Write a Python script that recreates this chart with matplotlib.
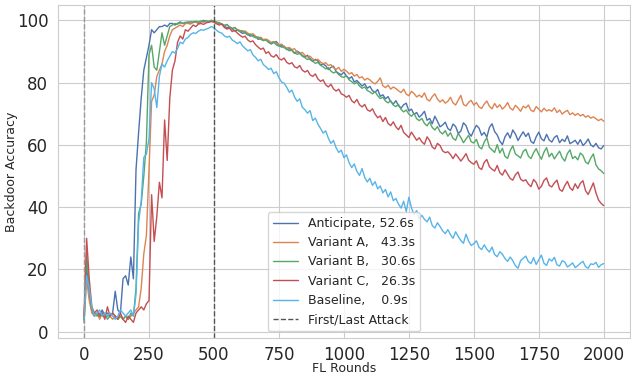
import numpy as np
import matplotlib
matplotlib.use("Agg")
import matplotlib.pyplot as plt
import seaborn as sns

# FL rounds sampled every 10 rounds
rounds = np.arange(0, 2001, 10)

anticipate = [
    4, 21, 12, 7, 5, 6, 5, 7, 5, 6,
    5, 6, 13, 7, 6, 17, 18, 15, 24, 17,
    52, 64, 75, 84, 88, 92, 97, 96, 97, 98,
    98, 98.5, 98, 99, 99, 98.5, 99, 99.5, 99, 99,
    99.5, 99, 99.5, 99.5, 99, 99.5, 100, 99.5, 99.5, 100,
    99.6, 99.3, 99.0, 98.9, 98.1, 97.6, 97.9, 97.2, 96.6, 96.9,
    96.4, 95.8, 96.1, 95.5, 94.9, 95.3, 94.8, 93.9, 94.2, 93.6,
    93.8, 93.1, 92.4, 92.9, 93.2, 92.1, 91.4, 91.7, 90.6, 90.9,
    90.3, 89.4, 90.1, 89.6, 88.7, 88.2, 88.8, 87.4, 86.8, 87.5,
    86.9, 85.7, 86.0, 85.4, 84.2, 84.9, 85.3, 83.6, 83.0, 82.5,
    83.4, 82.1, 81.3, 81.9, 80.2, 80.7, 79.8, 78.9, 79.6, 78.2,
    78.8, 77.4, 76.9, 77.8, 75.6, 76.1, 74.8, 75.5, 73.9, 73.1,
    74.2, 72.6, 71.8, 72.9, 73.4, 70.9, 71.5, 69.8, 70.4, 68.9,
    69.7, 70.8, 67.9, 68.5, 66.8, 69.2, 67.6, 65.8, 66.4, 67.3,
    65.3, 64.6, 66.7, 65.9, 63.7, 64.4, 67.1, 66.2, 63.9, 62.8,
    64.7, 66.3, 65.4, 63.1, 64.0, 62.5, 65.6, 66.8, 64.3, 63.2,
    61.2, 60.1, 62.6, 63.9, 62.2, 64.8, 63.5, 61.4, 62.9, 64.2,
    62.7, 63.8, 61.1, 60.5, 62.6, 64.1, 62.0, 61.3, 63.4, 61.6,
    60.9, 62.4, 63.0, 60.7, 61.8, 61.1, 62.9, 60.4, 60.9, 61.5,
    60.2, 61.7, 59.8, 60.6, 61.9, 60.0, 59.4, 60.5, 59.1, 58.7,
    59.8,
]

variant_a = [
    3, 17, 10, 6, 5, 6, 4, 6, 5, 5,
    5, 4, 5, 4, 5, 4, 5, 4, 5, 6,
    7, 8, 14, 25, 31, 52, 74, 76, 82, 84,
    86, 90, 92, 95, 97, 97.5, 98, 98.5, 98, 99,
    99, 98.8, 99.3, 99.5, 99.2, 99.6, 99.4, 99.7, 99.5, 99.8,
    99.7, 99.2, 99.4, 98.7, 98.3, 98.6, 97.8, 97.3, 97.7, 97.0,
    96.8, 96.3, 96.6, 95.9, 95.4, 95.7, 94.9, 94.3, 94.6, 93.8,
    94.0, 93.6, 92.9, 93.2, 92.6, 92.0, 92.4, 91.6, 91.1, 91.3,
    90.6, 90.9, 89.8, 89.3, 89.7, 88.8, 88.2, 88.5, 87.6, 87.1,
    87.5, 86.6, 86.1, 86.4, 85.5, 85.8, 84.8, 84.2, 84.9, 83.6,
    84.3, 83.7, 82.8, 83.2, 82.1, 82.6, 81.5, 81.9, 80.8, 81.4,
    80.9, 80.1, 79.6, 80.4, 81.5, 79.0, 78.4, 79.2, 77.9, 78.6,
    78.1, 77.4, 76.8, 77.9, 76.3, 75.8, 77.2, 76.5, 75.4, 76.0,
    75.3, 76.7, 74.6, 74.1, 75.5, 76.4, 74.7, 73.8, 74.5, 73.4,
    74.0, 75.3, 73.5, 72.8, 74.4, 75.9, 73.0, 72.5, 73.7, 74.3,
    72.8, 73.6, 72.2, 71.7, 73.1, 74.1, 72.4, 71.6, 73.3, 72.0,
    72.9, 71.5, 72.3, 73.6, 71.8, 71.2, 72.7, 71.9, 70.8, 72.4,
    71.9, 72.8, 71.1, 70.7, 72.3, 71.5, 70.6, 71.8, 70.9, 71.3,
    70.8, 71.9, 70.4, 71.2, 69.9, 70.6, 71.1, 69.7, 70.3, 69.5,
    70.1, 69.3, 69.8, 68.9, 69.4, 68.6, 69.0, 68.4, 67.8, 68.3,
    67.6,
]

variant_b = [
    4, 25, 14, 7, 6, 5, 6, 5, 6, 4,
    5, 6, 5, 4, 5, 4, 5, 4, 6, 5,
    14, 38, 41, 50, 61, 89, 92, 85, 84, 90,
    96, 92, 95, 98, 98.5, 99, 98.8, 99.2, 99, 99.4,
    99.3, 99.6, 99.4, 99.7, 99.5, 99.8, 99.6, 99.9, 99.7, 100,
    99.8, 99.5, 99.1, 98.8, 98.4, 98.7, 97.9, 97.4, 97.7, 96.9,
    96.4, 96.7, 95.9, 95.3, 95.6, 94.8, 94.4, 94.7, 93.9, 93.5,
    93.7, 92.9, 92.6, 93.0, 92.1, 91.7, 92.0, 91.2, 90.8, 90.2,
    90.5, 89.6, 89.1, 89.4, 88.5, 88.0, 87.4, 87.8, 86.9, 86.2,
    86.5, 85.6, 85.1, 84.4, 84.8, 83.7, 83.1, 83.5, 82.6, 81.9,
    81.7, 82.2, 80.9, 80.3, 79.6, 80.1, 78.9, 78.2, 78.6, 77.5,
    77.0, 76.4, 77.1, 75.8, 74.9, 75.3, 74.1, 73.5, 74.2, 72.8,
    72.3, 73.0, 71.4, 70.6, 71.2, 69.9, 69.2, 70.1, 68.4, 67.8,
    68.5, 66.9, 66.1, 67.4, 65.6, 64.8, 65.9, 64.2, 63.5, 64.6,
    62.8, 63.9, 62.1, 61.5, 63.7, 62.4, 60.7, 61.9, 63.1, 61.0,
    60.6, 61.8, 59.4, 58.7, 60.9, 62.3, 59.2, 58.4, 57.6, 60.1,
    57.4, 58.9, 56.3, 55.7, 58.2, 59.7, 57.1, 56.5, 55.8, 57.9,
    58.6, 56.4, 55.6, 57.5, 58.8, 56.9, 55.4, 57.7, 59.1, 56.2,
    57.3, 55.5, 56.8, 58.0, 55.9, 54.8, 57.2, 58.4, 55.6, 56.3,
    55.2, 57.4, 56.6, 54.5, 53.9, 55.8, 57.1, 53.6, 52.3, 51.7,
    50.8,
]

variant_c = [
    5, 30, 17, 8, 6, 7, 5, 6, 4, 8,
    5, 6, 5, 4, 6, 4, 3, 5, 4, 3,
    6, 7, 8, 7, 9, 10, 44, 29, 37, 48,
    43, 68, 55, 75, 84, 87, 93, 95, 94, 97,
    96.5, 97.5, 98.5, 98, 98.8, 99, 98.7, 99.2, 99.4, 99.6,
    99.4, 98.9, 98.5, 98.8, 97.7, 97.2, 97.5, 96.4, 96.8, 95.9,
    95.2, 94.6, 94.9, 93.7, 93.1, 93.4, 92.2, 91.4, 90.7, 91.1,
    89.4, 89.9, 88.6, 88.2, 89.0, 87.7, 87.3, 87.9, 86.5, 86.0,
    86.4, 85.1, 84.7, 85.5, 84.0, 83.4, 83.9, 82.5, 82.0, 82.8,
    81.2, 80.4, 80.9, 79.3, 78.6, 79.5, 78.0, 77.3, 77.9, 76.4,
    76.0, 75.3, 75.9, 74.2, 73.5, 74.6, 72.9, 72.2, 73.0, 71.3,
    70.8, 71.6, 69.9, 68.7, 69.3, 67.5, 68.8, 66.9, 66.2, 67.4,
    65.8, 64.9, 66.3, 64.0, 63.2, 62.4, 64.1, 62.8, 61.5, 62.3,
    61.0, 60.2, 62.6, 61.4, 59.3, 58.7, 60.5, 59.8, 58.1, 57.5,
    57.8, 56.9, 55.6, 57.1, 56.0, 54.8, 55.9, 57.2, 55.1, 54.3,
    53.8, 54.9, 52.7, 52.1, 54.4, 55.3, 53.0, 52.2, 51.6, 53.4,
    51.1, 50.3, 52.0, 50.6, 49.2, 48.7, 50.4, 51.3, 49.0, 48.4,
    48.8, 47.4, 46.6, 48.9, 47.9, 45.8, 46.7, 48.6, 49.4, 47.0,
    46.5, 47.8, 48.7, 45.7, 45.1, 46.9, 48.3, 46.2, 45.4, 47.5,
    46.0, 47.7, 48.5, 45.3, 44.1, 45.9, 47.8, 44.6, 42.3, 41.2,
    40.5,
]

baseline = [
    3, 18, 14, 8, 5, 6, 7, 5, 6, 5,
    6, 5, 4, 5, 7, 6, 5, 6, 7, 5,
    12, 35, 42, 56, 57, 62, 80, 78, 72, 82,
    86, 85, 87, 88.5, 90, 89.5, 91, 93, 92.5, 94,
    94.5, 95.5, 96, 95.8, 96.5, 97, 96.8, 97.2, 97.5, 98,
    97.6, 96.8, 96.2, 95.9, 95.0, 94.6, 94.9, 93.7, 93.2, 92.5,
    93.1, 91.8, 91.0, 90.2, 90.6, 88.9, 88.1, 87.0, 87.5, 85.8,
    85.1, 84.2, 84.6, 82.9, 83.5, 81.6, 80.2, 79.8, 78.5, 76.9,
    77.6, 75.4, 74.0, 74.8, 72.1, 71.3, 70.2, 71.0, 67.8, 68.6,
    66.7, 65.3, 63.8, 64.5, 62.2, 60.5, 61.4, 59.1, 57.6, 58.3,
    55.9, 56.8, 54.3, 52.7, 53.9, 51.5, 50.2, 52.4, 49.6, 48.1,
    49.3, 47.0, 48.2, 45.9, 46.8, 44.6, 45.7, 43.3, 44.9, 42.1,
    42.8, 41.0, 39.7, 41.9, 38.6, 43.2, 39.8, 37.6, 38.9, 36.2,
    37.4, 36.1, 35.3, 36.8, 34.1, 33.3, 35.0, 33.8, 32.4, 31.5,
    32.8, 31.2, 30.0, 32.1, 30.6, 29.3, 28.4, 31.3, 29.1, 27.7,
    28.3, 29.2, 27.1, 26.4, 27.9, 26.5, 25.6, 27.2, 24.8, 24.1,
    25.7, 24.9, 23.5, 22.6, 24.0, 22.8, 21.2, 20.4, 22.8, 23.6,
    24.3, 22.5, 21.9, 23.8, 21.6, 23.1, 24.6, 22.0, 21.3, 23.4,
    22.7, 23.9, 21.5, 21.1, 22.8, 22.4, 20.8, 21.4, 22.1, 20.6,
    21.2, 22.0, 22.6, 20.9, 20.4, 21.8, 21.6, 22.3, 20.7, 21.5,
    21.9,
]

labels = ["Anticipate, 52.6s", "Variant A,   43.3s", "Variant B,   30.6s",
          "Variant C,   26.3s", "Baseline,    0.9s"]
colors = ["#4C72B0", "#DD8452", "#55A868", "#C44E52", "#56B4E9"]
attack_rounds = [0, 500]
attack_colors = ["#999999", "#555555"]

sns.set_style("whitegrid")
plt.rcParams['font.family'] = ['DejaVu Sans']

fig, ax = plt.subplots(figsize=(6.31, 3.75), dpi=100)
for vals, lab, col in zip([anticipate, variant_a, variant_b, variant_c, baseline], labels, colors):
    ax.plot(rounds, vals, color=col, lw=1, label=lab)
for i, (r, c) in enumerate(zip(attack_rounds, attack_colors)):
    ax.axvline(r, color=c, ls="--", lw=1, label="First/Last Attack" if i == 1 else None)

ax.set_xticks(np.arange(0, 2001, 250))
ax.set_yticks(np.arange(0, 101, 20))
ax.tick_params(labelsize=12)
ax.tick_params(axis="x", pad=2.5)
ax.set_xlabel("FL Rounds", fontsize=9)
ax.set_ylabel("Backdoor Accuracy", fontsize=9)
ax.xaxis.set_label_coords(0.5, -0.075)
ax.yaxis.set_label_coords(-0.07, 0.5)
ax.legend(loc="lower center", fontsize=9)

fig.subplots_adjust(left=0.092, right=0.998, top=0.986, bottom=0.1)
fig.savefig("out.png")
